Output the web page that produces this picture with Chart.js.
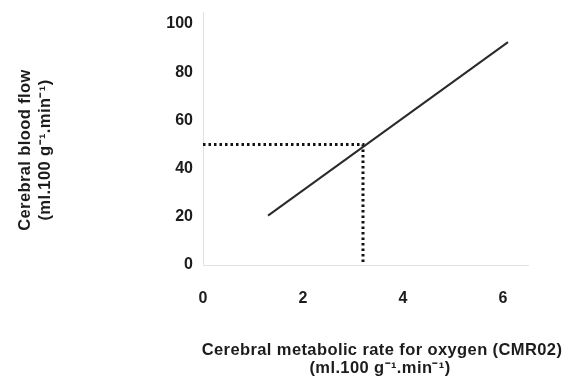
<!DOCTYPE html>
<html>
<head>
<meta charset="utf-8">
<script src="https://cdn.jsdelivr.net/npm/chart.js@4"></script>
<style>
  html, body { margin: 0; padding: 0; background: #fff; }
  #wrap { width: 571px; height: 379px; }
</style>
</head>
<body>
<div id="wrap"><canvas id="chart"></canvas></div>
<script>
// relation line CBF vs CMRO2
const cmro2 = [1.3, 6.1];
const cbf = [20.5, 92.5];
// dotted reading lines (normal values)
const refX = [0, 3.2, 3.2];
const refY = [50, 50, 0];
const xTicks = [0, 2, 4, 6];
const yTicks = [0, 20, 40, 60, 80, 100];

const yTitle = ["Cerebral blood flow", "(ml.100 g\u207B\u00B9.min\u207B\u00B9)"];
const xTitle = ["Cerebral metabolic rate for oxygen (CMR02)", "(ml.100 g\u207B\u00B9.min\u207B\u00B9)"];

const font = "'Liberation Sans', Arial, sans-serif";
const ink = "#1c1c1c";

const toPoints = (xs, ys) => xs.map((x, i) => ({ x, y: ys[i] }));

const titles = {
  id: "titles",
  afterDraw(chart) {
    const ctx = chart.ctx;
    ctx.save();
    ctx.fillStyle = ink;
    ctx.font = "bold 16.5px " + font;
    ctx.letterSpacing = "0.4px";
    ctx.textAlign = "center";
    ctx.textBaseline = "middle";
    ctx.fillText(xTitle[0], 382, 350);
    ctx.fillText(xTitle[1], 380, 368);
    ctx.translate(0, 150);
    ctx.rotate(-Math.PI / 2);
    ctx.fillText(yTitle[0], 0, 25);
    ctx.fillText(yTitle[1], 0, 45);
    ctx.restore();
  }
};

new Chart(document.getElementById("chart"), {
  type: "scatter",
  data: {
    datasets: [
      {
        data: toPoints(cmro2, cbf),
        showLine: true,
        borderColor: "#2a2a2a",
        borderWidth: 2,
        pointRadius: 0
      },
      {
        data: toPoints(refX, refY),
        showLine: true,
        borderColor: "#111",
        borderWidth: 3,
        borderDash: [2.5, 3],
        pointRadius: 0
      }
    ]
  },
  options: {
    responsive: true,
    maintainAspectRatio: false,
    animation: false,
    layout: { padding: { top: 12, right: 43, left: 0, bottom: 0 } },
    plugins: { legend: { display: false }, tooltip: { enabled: false } },
    scales: {
      x: {
        type: "linear",
        min: 0,
        max: 6.5,
        afterBuildTicks: s => { s.ticks = xTicks.map(v => ({ value: v })); },
        afterFit: s => { s.height = 114; },
        grid: { display: false, drawTicks: false },
        border: { color: "#e2e2e2", width: 1 },
        ticks: { padding: 24, color: ink, font: { family: font, size: 16, weight: "bold" } }
      },
      y: {
        type: "linear",
        min: 0,
        max: 105,
        afterBuildTicks: s => { s.ticks = yTicks.map(v => ({ value: v })); },
        afterFit: s => { s.width = 203; s.paddingTop = 0; s.paddingBottom = 0; },
        grid: { display: false, drawTicks: false },
        border: { color: "#e2e2e2", width: 1 },
        ticks: { padding: 10, color: ink, font: { family: font, size: 16, weight: "bold" } }
      }
    }
  },
  plugins: [titles]
});
</script>
</body>
</html>
